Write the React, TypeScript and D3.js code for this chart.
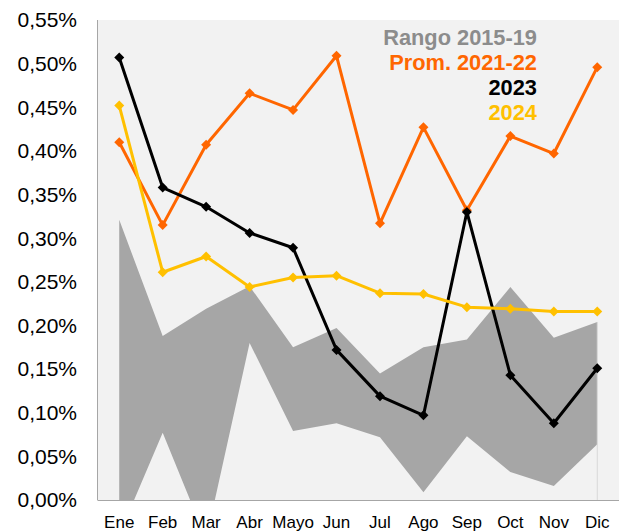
import React, { useEffect, useRef } from 'react';
import * as d3 from 'd3';

const months = ['Ene', 'Feb', 'Mar', 'Abr', 'Mayo', 'Jun', 'Jul', 'Ago', 'Sep', 'Oct', 'Nov', 'Dic'];
// values in %
const rangeHigh = [0.321, 0.188, 0.219, 0.245, 0.175, 0.197, 0.145, 0.175, 0.184, 0.244, 0.186, 0.204];
const rangeLow = [-0.04, 0.077, -0.045, 0.18, 0.079, 0.088, 0.072, 0.009, 0.073, 0.032, 0.016, 0.064];
const prom2122 = [0.41, 0.315, 0.407, 0.466, 0.447, 0.509, 0.317, 0.427, 0.332, 0.417, 0.397, 0.496];
const y2023 = [0.507, 0.358, 0.336, 0.306, 0.289, 0.172, 0.119, 0.097, 0.33, 0.143, 0.088, 0.151];
const y2024 = [0.452, 0.261, 0.279, 0.244, 0.255, 0.257, 0.237, 0.236, 0.221, 0.219, 0.216, 0.216];
const yTicks = [0, 0.05, 0.1, 0.15, 0.2, 0.25, 0.3, 0.35, 0.4, 0.45, 0.5, 0.55];

const legend = [
  { label: 'Rango 2015-19', color: '#8c8c8c' },
  { label: 'Prom. 2021-22', color: '#ff6600' },
  { label: '2023', color: '#000000' },
  { label: '2024', color: '#ffc000' },
];

const App = () => {
  const svg = useRef(null);
  const width = 625;
  const height = 531;
  const margin = { top: 20, right: 6, bottom: 31, left: 97.5 };
  const font = '"Liberation Sans", Arial, sans-serif';

  const renderChart = (svg: any) => {
    svg.selectAll('*').remove();

    const x = d3
      .scalePoint()
      .domain(months)
      .range([margin.left, width - margin.right])
      .padding(0.5);

    const y = d3
      .scaleLinear()
      .domain([0, 0.55])
      .range([height - margin.bottom, margin.top]);

    const plotW = width - margin.right - margin.left;
    const plotH = height - margin.bottom - margin.top;

    svg.append('defs')
      .append('clipPath')
      .attr('id', 'plot-clip')
      .append('rect')
      .attr('x', margin.left)
      .attr('y', margin.top)
      .attr('width', plotW)
      .attr('height', plotH);

    svg.append('rect')
      .attr('x', margin.left)
      .attr('y', margin.top)
      .attr('width', plotW)
      .attr('height', plotH)
      .attr('fill', '#f2f2f2');

    const band = months.map((m, i) => ({ m, lo: rangeLow[i], hi: rangeHigh[i] }));
    const area = d3.area<any>()
      .x(d => x(d.m) as number)
      .y0(d => y(d.lo))
      .y1(d => y(d.hi));

    svg.append('path')
      .datum(band)
      .attr('clip-path', 'url(#plot-clip)')
      .attr('d', area)
      .attr('fill', '#a6a6a6');

    svg.append('line')
      .attr('x1', x('Dic'))
      .attr('x2', x('Dic'))
      .attr('y1', y(rangeHigh[11]))
      .attr('y2', y(0))
      .attr('stroke', '#d9d9d9')
      .attr('stroke-width', 1);

    // axes lines
    svg.append('line')
      .attr('x1', margin.left).attr('x2', margin.left)
      .attr('y1', margin.top).attr('y2', y(0))
      .attr('stroke', '#a6a6a6').attr('stroke-width', 1);
    svg.append('line')
      .attr('x1', margin.left).attr('x2', width - margin.right)
      .attr('y1', y(0) + 0.5).attr('y2', y(0) + 0.5)
      .attr('stroke', '#a6a6a6').attr('stroke-width', 1);

    svg.append('g')
      .selectAll('text')
      .data(yTicks)
      .enter()
      .append('text')
      .attr('x', 77)
      .attr('y', (d: number) => y(d))
      .attr('dy', '0.35em')
      .attr('text-anchor', 'end')
      .attr('font-family', font)
      .attr('font-size', 21)
      .attr('fill', '#000')
      .text((d: number) => d.toFixed(2).replace('.', ',') + '%');

    svg.append('g')
      .selectAll('text')
      .data(months)
      .enter()
      .append('text')
      .attr('x', (d: string) => x(d))
      .attr('y', 528)
      .attr('text-anchor', 'middle')
      .attr('font-family', font)
      .attr('font-size', 17)
      .attr('fill', '#000')
      .text((d: string) => d);

    const series = [
      { values: prom2122, color: '#ff6600' },
      { values: y2023, color: '#000000' },
      { values: y2024, color: '#ffc000' },
    ];
    const line = d3.line<number>()
      .x((_, i) => x(months[i]) as number)
      .y(d => y(d));
    const diamond = d3.symbol().type(d3.symbolSquare).size(50);

    series.forEach(s => {
      const g = svg.append('g');
      g.append('path')
        .datum(s.values)
        .attr('d', line)
        .attr('fill', 'none')
        .attr('stroke', s.color)
        .attr('stroke-width', 3)
        .attr('stroke-linejoin', 'round');
      g.selectAll('path.mk')
        .data(s.values)
        .enter()
        .append('path')
        .attr('class', 'mk')
        .attr('d', diamond)
        .attr('transform', (d: number, i: number) => `translate(${x(months[i])},${y(d)}) rotate(45)`)
        .attr('fill', s.color);
    });

    svg.append('g')
      .selectAll('text')
      .data(legend)
      .enter()
      .append('text')
      .attr('x', 537)
      .attr('y', (_: any, i: number) => 44.5 + i * 25.2)
      .attr('text-anchor', 'end')
      .attr('font-family', font)
      .attr('font-size', 21.8)
      .attr('font-weight', 'bold')
      .attr('fill', (d: any) => d.color)
      .text((d: any) => d.label);
  };

  useEffect(() => {
    renderChart(d3.select(svg.current));
  }, []);

  return (
    <svg
      ref={svg}
      width={width}
      height={height}
      style={{ position: 'absolute', left: 0, top: 0, background: '#fff' }}
    />
  );
};

export default App;
